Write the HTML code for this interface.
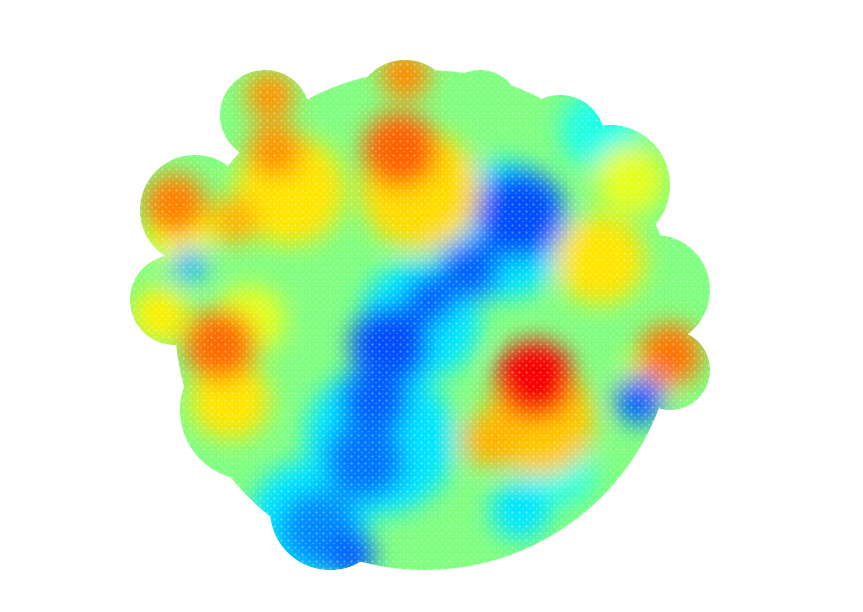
<!DOCTYPE html>
<html>
<head>
<meta charset="utf-8">
<style>
  html, body { margin: 0; padding: 0; background: #ffffff; }
  body { width: 863px; height: 612px; overflow: hidden; font-family: "Liberation Sans", sans-serif; }
  svg { display: block; }
</style>
</head>
<body>
<svg id="chart" width="863" height="612" viewBox="0 0 863 612" xmlns="http://www.w3.org/2000/svg">
  <defs>
    <filter id="blur" x="-30%" y="-30%" width="160%" height="160%">
      <feGaussianBlur stdDeviation="12"/>
    </filter>
    <pattern id="speckle" width="7" height="7" patternUnits="userSpaceOnUse">
      <circle cx="1.5" cy="1.5" r="1.1" fill="#ffffff" opacity="0.35"/>
      <circle cx="5" cy="4.5" r="0.9" fill="#ffffff" opacity="0.25"/>
    </pattern>
    <clipPath id="cloudClip"></clipPath>
  </defs>
  <g id="cloud"></g>
</svg>
<script>
// Cloud outline lobes (centre x, centre y, radius)
const lobeX = [425, 265, 405, 195, 175, 610, 655, 670, 330, 510, 560, 420, 250, 310, 480];
const lobeY = [320, 115, 110, 210, 300, 185, 290, 370, 510, 500, 140, 210, 410, 470, 110];
const lobeR = [250, 45, 50, 55, 45, 60, 55, 40, 60, 50, 45, 80, 70, 60, 40];

// Base value of the cloud (jet scale 0..1)
const baseValue = [0.50];

// Colour regions: centre x, centre y, radius, value (0 = blue, 1 = red on jet scale)
// order: cyan halos, yellow halos, orange/red peaks, blue streaks
const blobX = [500, 420, 380, 310, 600, 560, 520,  290, 600, 250, 230, 420, 540, 180, 650,  400, 405, 270, 275, 175, 235, 220, 535, 670, 490, 160, 630,  520, 470, 430, 390, 375, 365, 320, 350, 640, 190];
const blobY = [230, 320, 440, 520, 130, 470, 510,  190, 260, 320, 400, 190, 420, 230, 380,  150,  75,  95, 150, 205, 220, 345, 380, 355, 440, 315, 180,  215, 270, 300, 345, 400, 460, 530, 555, 400, 265];
const blobR = [ 70,  60,  75,  60,  40,  35,  30,   55,  45,  35,  40,  60,  55,  35,  30,   38,  25,  25,  28,  32,  24,  36,  40,  32,  28,  28,  35,   45,  30,  25,  40,  35,  40,  40,  25,  25,  18];
const blobV = [0.35,0.35,0.35,0.35,0.40,0.40,0.35, 0.65,0.65,0.60,0.65,0.66,0.68,0.62,0.60, 0.78,0.74,0.73,0.73,0.75,0.70,0.77,0.88,0.76,0.70,0.64,0.60, 0.20,0.22,0.22,0.20,0.22,0.24,0.26,0.22,0.22,0.30];

function jet(v) {
  v = Math.max(0, Math.min(1, v));
  const r = Math.max(0, Math.min(1, 1.5 - Math.abs(4 * v - 3)));
  const g = Math.max(0, Math.min(1, 1.5 - Math.abs(4 * v - 2)));
  const b = Math.max(0, Math.min(1, 1.5 - Math.abs(4 * v - 1)));
  return `rgb(${Math.round(r*255)},${Math.round(g*255)},${Math.round(b*255)})`;
}

const NS = "http://www.w3.org/2000/svg";
const clip = document.getElementById("cloudClip");
for (let i = 0; i < lobeX.length; i++) {
  const c = document.createElementNS(NS, "circle");
  c.setAttribute("cx", lobeX[i]); c.setAttribute("cy", lobeY[i]); c.setAttribute("r", lobeR[i]);
  clip.appendChild(c);
}

const cloud = document.getElementById("cloud");
const inner = document.createElementNS(NS, "g");
inner.setAttribute("clip-path", "url(#cloudClip)");
cloud.appendChild(inner);

const base = document.createElementNS(NS, "rect");


base.setAttribute("x", 0); base.setAttribute("y", 0); base.setAttribute("width", 863); base.setAttribute("height", 612);
base.setAttribute("fill", jet(baseValue[0]));
inner.appendChild(base);

const blobs = document.createElementNS(NS, "g");
blobs.setAttribute("filter", "url(#blur)");
inner.appendChild(blobs);
for (let i = 0; i < blobX.length; i++) {
  const c = document.createElementNS(NS, "circle");
  
  
  c.setAttribute("cx", blobX[i]); c.setAttribute("cy", blobY[i]);
  c.setAttribute("r", blobR[i]);
  c.setAttribute("fill", jet(blobV[i]));
  blobs.appendChild(c);
}
const sp = document.createElementNS(NS, "rect");


sp.setAttribute("x", 0); sp.setAttribute("y", 0); sp.setAttribute("width", 863); sp.setAttribute("height", 612);
sp.setAttribute("fill", "url(#speckle)");
inner.appendChild(sp);
</script>
</body>
</html>
